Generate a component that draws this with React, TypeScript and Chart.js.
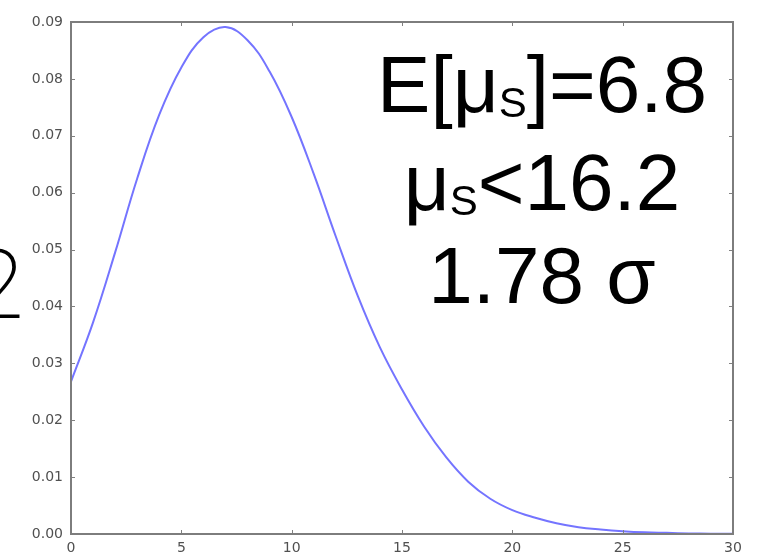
import React, { useEffect, useRef } from "react";
import { Chart, registerables } from "chart.js";

Chart.register(...registerables);

const xValues = [0, 1, 2, 3, 4, 5, 6, 7, 8, 9, 10, 11, 12, 13, 14, 15, 16, 17, 18, 19, 20, 21, 22, 23, 24, 25, 26, 27, 28, 29, 30];
const density = [0.0268, 0.0372, 0.0495, 0.0625, 0.0737, 0.082, 0.0873, 0.0891, 0.0868, 0.0813, 0.0733, 0.0633, 0.0523, 0.0418, 0.0328, 0.0254, 0.0189, 0.0135, 0.0092, 0.0062, 0.0042, 0.0029, 0.0019, 0.0012, 0.0008, 0.0005, 0.0003, 0.0002, 0.0001, 0.00006, 0.00003];
const xTicks = [0, 5, 10, 15, 20, 25, 30];
const yTicks = [0, 0.01, 0.02, 0.03, 0.04, 0.05, 0.06, 0.07, 0.08, 0.09];
const annotationLines = [
  ["E[μ", "S", "]=6.8"],
  ["μ", "S", "<16.2"],
  ["1.78 σ", "", ""],
];
const sideText = "2";

const framePlugin = {
  id: "frameAndText",
  afterDraw(chart: any) {
    const { ctx, chartArea, scales } = chart;
    const { left, right, top, bottom } = chartArea;
    ctx.save();
    // inward ticks
    ctx.strokeStyle = "#808080";
    ctx.lineWidth = 1;
    const tl = 4;
    xTicks.forEach((v) => {
      const px = Math.round(scales.x.getPixelForValue(v)) + 0.5;
      ctx.beginPath();
      ctx.moveTo(px, bottom);
      ctx.lineTo(px, bottom - tl);
      ctx.moveTo(px, top);
      ctx.lineTo(px, top + tl);
      ctx.stroke();
    });
    yTicks.forEach((v) => {
      const py = Math.round(scales.y.getPixelForValue(v)) + 0.5;
      ctx.beginPath();
      ctx.moveTo(left, py);
      ctx.lineTo(left + tl, py);
      ctx.moveTo(right, py);
      ctx.lineTo(right - tl, py);
      ctx.stroke();
    });
    // frame
    ctx.strokeStyle = "#7d7d7d";
    ctx.lineWidth = 2;
    ctx.strokeRect(left, top, right - left, bottom - top);

    // annotation text
    ctx.fillStyle = "#000";
    ctx.textBaseline = "alphabetic";
    ctx.textAlign = "left";
    const big = "400 80px 'Liberation Sans', Arial, sans-serif";
    const small = "400 42px 'Liberation Sans', Arial, sans-serif";
    const baselines = [112, 210, 303];
    const cx = 542;
    annotationLines.forEach((parts, i) => {
      ctx.font = big;
      const w0 = ctx.measureText(parts[0]).width;
      const w2 = ctx.measureText(parts[2]).width;
      ctx.font = small;
      const w1 = parts[1] ? ctx.measureText(parts[1]).width : 0;
      const total = w0 + w1 + w2;
      let x = cx - total / 2;
      const y = baselines[i];
      ctx.font = big;
      ctx.fillText(parts[0], x, y);
      x += w0;
      if (parts[1]) {
        ctx.font = small;
        ctx.fillText(parts[1], x, y + 5);
        x += w1;
      }
      ctx.font = big;
      ctx.fillText(parts[2], x, y);
    });

    // cut-off glyph on the left edge
    ctx.font = "200 96px 'Roboto', 'Liberation Sans', sans-serif";
    ctx.fillText(sideText, -29, 318);
    ctx.restore();
  },
};

export default function App() {
  const ref = useRef<HTMLCanvasElement | null>(null);
  useEffect(() => {
    if (!ref.current) return;
    const chart = new Chart(ref.current, {
      type: "line",
      data: {
        datasets: [
          {
            data: xValues.map((x, i) => ({ x, y: density[i] })),
            borderColor: "#7474ff",
            borderWidth: 2,
            pointRadius: 0,
            fill: false,
            tension: 0.4,
          },
        ],
      },
      options: {
        animation: false,
        responsive: false,
        maintainAspectRatio: false,
        layout: { padding: { left: 0, top: 22, right: 27, bottom: 0 } },
        plugins: { legend: { display: false }, tooltip: { enabled: false } },
        scales: {
          x: {
            type: "linear",
            min: 0,
            max: 30,
            afterFit: (s: any) => {
              s.height = 24;
            },
            afterBuildTicks: (s: any) => {
              s.ticks = xTicks.map((v) => ({ value: v }));
            },
            grid: { display: false, drawTicks: false },
            border: { display: false },
            ticks: {
              padding: 6,
              color: "#505050",
              font: { family: "'DejaVu Sans', sans-serif", size: 14 },
              maxRotation: 0,
              callback: (v: any) => String(v),
            },
          },
          y: {
            type: "linear",
            min: 0,
            max: 0.09,
            afterFit: (s: any) => {
              s.width = 71;
            },
            afterBuildTicks: (s: any) => {
              s.ticks = yTicks.map((v) => ({ value: v }));
            },
            grid: { display: false, drawTicks: false },
            border: { display: false },
            ticks: {
              padding: 8,
              color: "#505050",
              font: { family: "'DejaVu Sans', sans-serif", size: 14 },
              callback: (v: any) => Number(v).toFixed(2),
            },
          },
        },
      },
      plugins: [framePlugin],
    });
    return () => chart.destroy();
  }, []);
  return (
    <div style={{ position: "fixed", left: 0, top: 0, width: 760, height: 558, background: "#fff" }}>
      <canvas ref={ref} width={760} height={558} style={{ width: 760, height: 558, display: "block" }} />
    </div>
  );
}
